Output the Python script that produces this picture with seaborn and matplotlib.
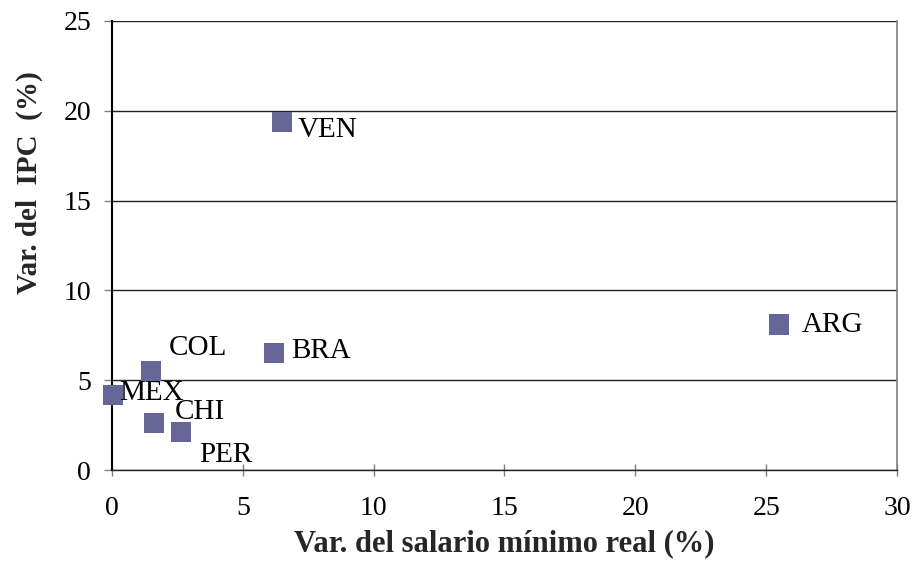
import matplotlib
matplotlib.use("Agg")
import matplotlib.pyplot as plt
import seaborn as sns
import pandas as pd

# data
countries = ["VEN", "ARG", "BRA", "COL", "MEX", "CHI", "PER"]
salario = [6.5, 25.5, 6.2, 1.5, 0.05, 1.6, 2.65]
ipc = [19.4, 8.1, 6.5, 5.5, 4.2, 2.6, 2.1]

# label offsets in pixels (dx, dy) relative to each marker
label_offsets = {
    "VEN": (16, -8), "ARG": (22, 0), "BRA": (17, 2), "COL": (18, 23),
    "MEX": (6, 2), "CHI": (21, 11), "PER": (18, -23),
}

df = pd.DataFrame({"pais": countries, "salario": salario, "ipc": ipc})

sns.set_theme(style="white")
plt.rcParams["font.family"] = ["Liberation Serif", "DejaVu Serif"]

fig = plt.figure(figsize=(9.16, 5.65), dpi=100)
ax = fig.add_axes([112 / 916, 1 - 470 / 565, 785 / 916, 449 / 565])

sns.scatterplot(data=df, x="salario", y="ipc", marker="s", s=210,
                color="#666699", edgecolor="none", ax=ax, clip_on=False, zorder=3)

for name, x, y in zip(countries, salario, ipc):
    dx, dy = label_offsets[name]
    ax.annotate(name, (x, y), xytext=(dx, dy), textcoords="offset pixels",
                ha="left", va="center", fontsize=21, color="black", zorder=4)

ax.set_xlim(0, 30)
ax.set_ylim(0, 25)
ax.set_xticks(range(0, 31, 5))
ax.set_yticks(range(0, 26, 5))
ax.yaxis.grid(True, color="#222222", linewidth=1.0)
ax.set_axisbelow(True)

ax.spines["top"].set_visible(False)
ax.spines["left"].set_color("black")
ax.spines["left"].set_linewidth(1.5)
ax.spines["bottom"].set_color("#222222")
ax.spines["bottom"].set_linewidth(1.0)
ax.spines["right"].set_color("#808080")
ax.spines["right"].set_linewidth(1.2)

ax.tick_params(axis="x", direction="inout", length=9, width=1, color="#808080",
               labelcolor="black", labelsize=20, bottom=True, pad=14)
ax.tick_params(axis="y", direction="out", length=6, width=1, color="#808080",
               labelcolor="black", labelsize=20, left=True, pad=9)

ax.set_xlabel("Var. del salario mínimo real (%)", fontsize=22, fontweight="bold")
ax.xaxis.set_label_coords(0.5, -0.133)
ax.set_ylabel("Var. del  IPC  (%)", fontsize=21, fontweight="bold")
ax.yaxis.set_label_coords(-0.088, 0.64)

fig.savefig("out.png", dpi=100)
